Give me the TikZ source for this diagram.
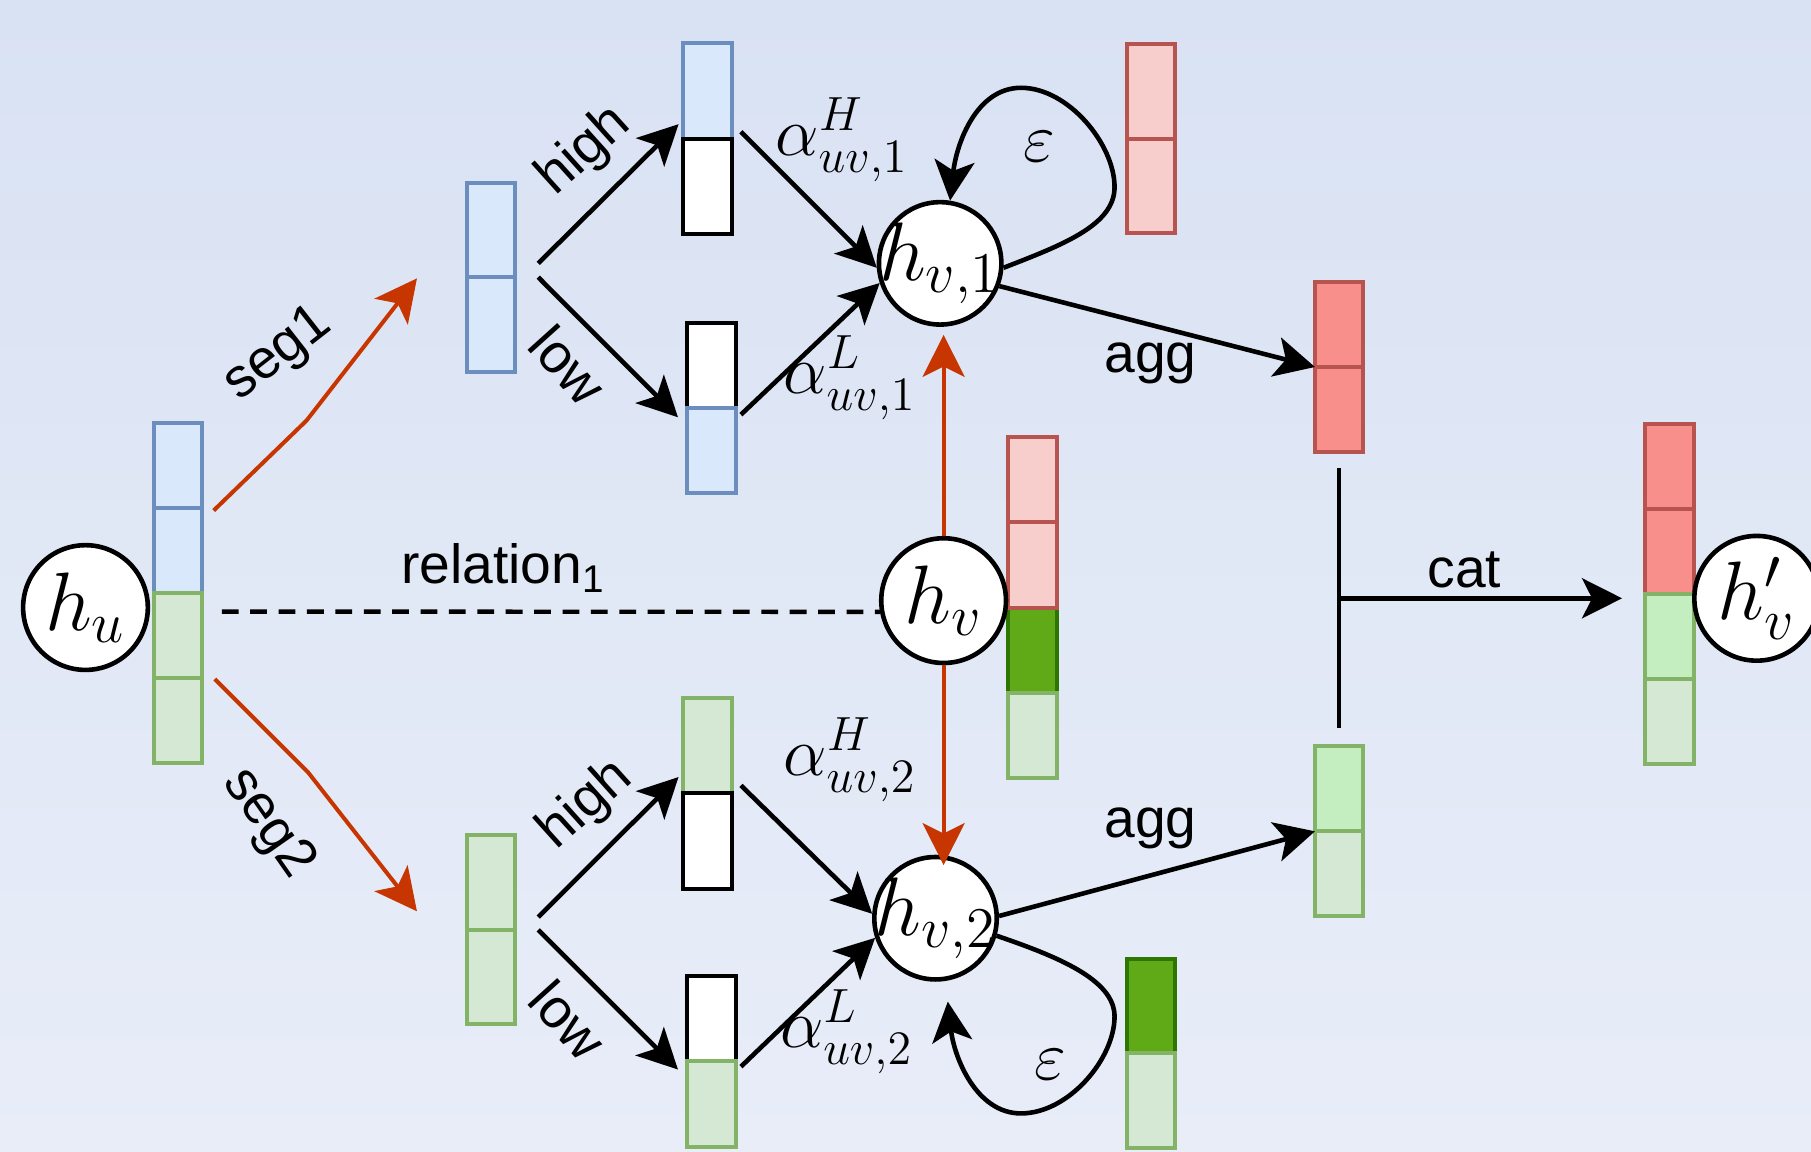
\documentclass[tikz,border=0pt]{standalone}
\usepackage[no-math]{fontspec}
\newfontfamily\lsans{Liberation Sans}
\usetikzlibrary{arrows.meta,calc}
\definecolor{bgtop}{HTML}{D9E2F3}
\definecolor{bgbot}{HTML}{E8EDF8}
\definecolor{bfill}{HTML}{DAE8FC}
\definecolor{bdraw}{HTML}{6C8EBF}
\definecolor{gfill}{HTML}{D5E8D4}
\definecolor{gdraw}{HTML}{82B366}
\definecolor{pfill}{HTML}{F8CECC}
\definecolor{pdraw}{HTML}{B85450}
\definecolor{dgfill}{HTML}{60A917}
\definecolor{dgdraw}{HTML}{2D7600}
\definecolor{rfill}{HTML}{F98F8A}
\definecolor{lgfill}{HTML}{C4EDC0}
\definecolor{segred}{HTML}{C73500}
\def\pxu{0.28875pt}
\tikzset{
 vcell/.style args={#1/#2/#3}{draw=#2, fill=#1, line width=1pt, minimum width=42*\pxu, minimum height=#3*\pxu, inner sep=0pt, outer sep=0pt},
 hcirc/.style={circle, draw=black, fill=white, line width=1.15pt, minimum size=#1*\pxu, inner sep=0pt, font=\huge},
 lbl/.style={font=\lsans\fontsize{13.8}{16}\selectfont, inner sep=0pt},
 mlbl/.style={font=\LARGE, inner sep=0pt},
 blarrow/.style={draw=black, line width=1.15pt, -{Stealth[length=10pt,width=10pt,inset=2.5pt]}},
 redarrow/.style={draw=segred, line width=1pt, -{Stealth[length=10.5pt,width=10.5pt,inset=2.6pt]}},
}
\begin{document}
\begin{tikzpicture}[x=0.28875pt,y=-0.28875pt]
\shade[top color=bgtop,bottom color=bgbot] (0,0) rectangle (1568,997);
\useasboundingbox (0,0) rectangle (1568,997);
\clip (0,0) rectangle (1568,997);

% source vector h_u
\node[vcell=bfill/bdraw/73.7] (u1) at (154,403) {};
\node[vcell=bfill/bdraw/73.7] (u2) at (154,477) {};
\node[vcell=gfill/gdraw/73.7] (u3) at (154,550) {};
\node[vcell=gfill/gdraw/73.7] (u4) at (154,624) {};
\node[hcirc=108] (hu) at (74,526) {$h_u$};

% segment vectors
\node[vcell=bfill/bdraw/82] (s1a) at (425,199) {};
\node[vcell=bfill/bdraw/82] (s1b) at (425,281) {};
\node[vcell=gfill/gdraw/82] (s2a) at (425,764) {};
\node[vcell=gfill/gdraw/82] (s2b) at (425,846) {};

% high / low vectors (top)
\node[vcell=bfill/bdraw/83] (hi1a) at (612.5,78.5) {};
\node[vcell=white/black/83] (hi1b) at (612.5,161.5) {};
\node[vcell=white/black/73.5] (lo1a) at (616,316.75) {};
\node[vcell=bfill/bdraw/73.5] (lo1b) at (616,390.25) {};
% high / low vectors (bottom)
\node[vcell=gfill/gdraw/82.5] (hi2a) at (612.5,645.75) {};
\node[vcell=white/black/82.5] (hi2b) at (612.5,728.25) {};
\node[vcell=white/black/74] (lo2a) at (616,882) {};
\node[vcell=gfill/gdraw/74] (lo2b) at (616,956) {};

% epsilon vectors
\node[vcell=pfill/pdraw/82] (r1a) at (996.5,79) {};
\node[vcell=pfill/pdraw/82] (r1b) at (996.5,161) {};
\node[vcell=dgfill/dgdraw/82] (g2a) at (996.5,871) {};
\node[vcell=gfill/gdraw/82] (g2b) at (996.5,953) {};

% target vector h_v
\node[vcell=dgfill/dgdraw/74] (v3) at (894,563) {};
\node[vcell=pfill/pdraw/74] (v1) at (894,415) {};
\node[vcell=pfill/pdraw/74] (v2) at (894,489) {};
\node[vcell=gfill/gdraw/74] (v4) at (894,637) {};

% circles
\node[hcirc=106] (hv1) at (814,228) {\makebox[0pt]{$h_{v,1}$}};
\node[hcirc=108] (hv) at (817,520) {$h_v$};
\node[hcirc=106] (hv2) at (810,795) {\makebox[0pt]{$h_{v,2}$}};

% aggregated vectors
\node[vcell=rfill/pdraw/73.5] (aggR1) at (1159.5,281) {};
\node[vcell=rfill/pdraw/73.5] (aggR2) at (1159.5,354.5) {};
\node[vcell=lgfill/gdraw/73.5] (aggG1) at (1159.5,683) {};
\node[vcell=gfill/gdraw/73.5] (aggG2) at (1159.5,756.5) {};

% output vector
\node[vcell=rfill/pdraw/73.5] (out1) at (1445.5,404) {};
\node[vcell=rfill/pdraw/73.5] (out2) at (1445.5,477.5) {};
\node[vcell=lgfill/gdraw/73.5] (out3) at (1445.5,551) {};
\node[vcell=gfill/gdraw/73.5] (out4) at (1445.5,624.5) {};
\node[hcirc=108] (hvp) at (1521,518) {$h'_v$};

% free ends
\coordinate (seg1s) at (185,442);
\coordinate (seg1b) at (265.5,364);
\coordinate (seg1e) at (361,241);
\coordinate (seg2s) at (186,588);
\coordinate (seg2b) at (267,669);
\coordinate (seg2e) at (361,789);
\coordinate (h1s) at (466,228);
\coordinate (l1s) at (466,240);
\coordinate (aH1s) at (641.5,114);
\coordinate (aL1s) at (641.5,359);
\coordinate (h2s) at (466,794);
\coordinate (l2s) at (466,805);
\coordinate (aH2s) at (641.5,680);
\coordinate (aL2s) at (641.5,923.5);
\coordinate (ds) at (192,529.5);
\coordinate (catT) at ($(aggR2.south)+(0,14)$);
\coordinate (catB) at ($(aggG1.north)+(0,-16)$);
\coordinate (catM) at (1159.5,518);

% seg arrows
\draw[redarrow] (seg1s) -- (seg1b) -- (seg1e);
\draw[redarrow] (seg2s) -- (seg2b) -- (seg2e);

% relation
\draw[line width=1.1pt, dash pattern=on 4.2pt off 2.9pt] (ds) -- (hv.190);

% high/low arrows
\draw[blarrow] (h1s) -- ($(hi1a.west)+(-4,29)$);
\draw[blarrow] (l1s) -- ($(lo1b.west)+(-8,-29)$);
\draw[blarrow] (aH1s) -- (hv1.184);
\draw[blarrow] (aL1s) -- (hv1.198);
\draw[blarrow] (h2s) -- ($(hi2a.west)+(-4,27)$);
\draw[blarrow] (l2s) -- ($(lo2b.west)+(-8,-30)$);
\draw[blarrow] (aH2s) -- (hv2.176);
\draw[blarrow] (aL2s) -- (hv2.198);

% red vertical arrows
\draw[redarrow, shorten >=2pt] (hv.north) -- (hv.north |- hv1.south);
\draw[redarrow, shorten >=-2.6pt] (hv.south) -- (hv.south |- hv2.north);

% self loops
\draw[blarrow] (hv1.356) .. controls (920,212) and (965,195) .. (965,162)
  .. controls (965,125) and (925,76) .. (884,76)
  .. controls (845,76) and (828,125) .. (hv1.81);
\draw[blarrow, shorten >=5.2pt] (hv2.344) .. controls (915,828) and (965,848) .. (965,880)
  .. controls (965,917) and (925,964) .. (884,964)
  .. controls (845,964) and (826,915) .. (hv2.279);

% agg arrows
\draw[blarrow] (hv1.339) -- (aggR1.south west);
\draw[blarrow] (hv2.2) -- (aggG1.south west);

% cat
\draw[line width=1.1pt] (catT) -- (catB);
\draw[blarrow, shorten >=5.8pt] (catM) -- (catM -| out3.west);

% labels
\node[lbl, rotate=38] (lseg1) at (241,307) {seg1};
\node[lbl, rotate=-55] (lseg2) at (232,713) {seg2};
\node[lbl] (lrel) at (436,492) {relation\textsubscript{1}};
\node[lbl, rotate=42] (lhigh1) at (506,131) {high};
\node[lbl, rotate=-48] (llow1) at (492,316) {low};
\node[lbl, rotate=42] (lhigh2) at (507,697) {high};
\node[lbl, rotate=-48] (llow2) at (492,883) {low};
\node[mlbl] (la1) at (729,121) {$\alpha^{H}_{uv,1}$};
\node[mlbl] (lb1) at (736,327) {$\alpha^{L}_{uv,1}$};
\node[mlbl] (la2) at (736,658) {$\alpha^{H}_{uv,2}$};
\node[mlbl] (lb2) at (733,893) {$\alpha^{L}_{uv,2}$};
\node[mlbl] (leps1) at (900,127) {$\varepsilon$};
\node[mlbl] (leps2) at (909,922) {$\varepsilon$};
\node[lbl] (lagg1) at (996,315) {agg};
\node[lbl] (lagg2) at (996,717) {agg};
\node[lbl] (lcat) at (1268,493) {cat};
\end{tikzpicture}
\end{document}
